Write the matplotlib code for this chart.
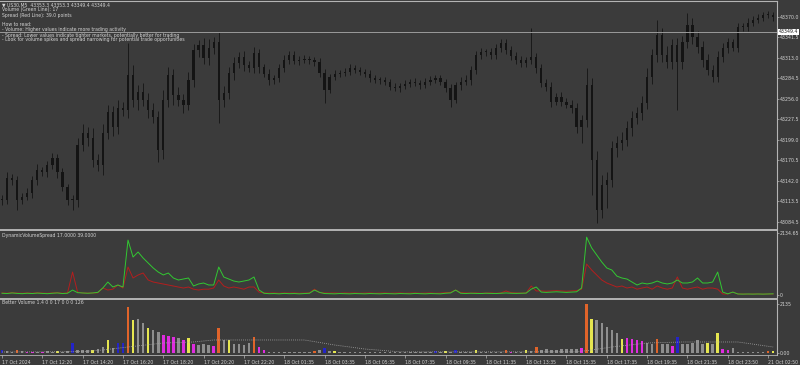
import numpy as np
import matplotlib
matplotlib.use('Agg')
import matplotlib.pyplot as plt
import matplotlib.transforms as mtransforms
from matplotlib.lines import Line2D

# --- price data (one candle ~ 15 minutes of the M5 chart) ---
close = [43116, 43146, 43143, 43116, 43120, 43125, 43143, 43157, 43154, 43164, 43174, 43154, 43134, 43116, 43116,
         43192, 43209, 43202, 43171, 43164, 43209, 43238, 43217, 43243, 43241, 43289, 43255, 43266, 43255, 43241,
         43231, 43185, 43255, 43289, 43262, 43255, 43248, 43282, 43324, 43331, 43313, 43327, 43335, 43255, 43264,
         43292, 43306, 43314, 43303, 43299, 43320, 43300, 43291, 43282, 43285, 43299, 43310, 43317, 43309, 43310,
         43312, 43310, 43307, 43292, 43269, 43287, 43291, 43292, 43294, 43299, 43296, 43294, 43291, 43285, 43282,
         43282, 43280, 43273, 43271, 43274, 43277, 43280, 43278, 43275, 43280, 43282, 43285, 43280, 43271, 43255,
         43275, 43280, 43282, 43296, 43317, 43321, 43321, 43317, 43327, 43334, 43324, 43316, 43310, 43306, 43310,
         43314, 43299, 43278, 43273, 43252, 43259, 43252, 43248, 43243, 43217, 43227, 43275, 43171, 43102, 43136,
         43143, 43188, 43195, 43199, 43216, 43230, 43237, 43250, 43287, 43317, 43345, 43317, 43307, 43331, 43307,
         43335, 43359, 43342, 43328, 43310, 43296, 43287, 43314, 43327, 43335, 43327, 43356, 43356, 43362, 43366,
         43369, 43373, 43373, 43370]
up_wick = [6, 8, 5, 6, 5, 7, 6, 8, 5, 6, 7, 5, 6, 4, 6,
           10, 12, 8, 14, 9, 12, 10, 8, 12, 9, 45, 14, 10, 12, 9,
           10, 8, 14, 12, 9, 10, 8, 12, 9, 7, 10, 12, 7, 14, 10,
           9, 8, 7, 8, 6, 8, 6, 5, 6, 5, 6, 7, 5, 5, 6,
           5, 4, 5, 6, 5, 4, 5, 4, 5, 6, 4, 5, 4, 5, 4,
           4, 5, 4, 5, 4, 5, 4, 5, 4, 5, 6, 4, 5, 4, 6,
           5, 6, 7, 6, 5, 6, 5, 6, 5, 6, 5, 6, 5, 6, 5,
           41, 6, 5, 6, 7, 5, 6, 5, 6, 8, 7, 24, 10, 12, 14,
           12, 10, 9, 11, 10, 9, 8, 10, 12, 9, 21, 10, 12, 9, 10,
           9, 17, 10, 8, 9, 8, 7, 8, 7, 6, 5, 6, 5, 6, 5,
           5, 4, 5, 4]
dn_wick = [8, 6, 7, 14, 6, 5, 7, 6, 5, 7, 6, 8, 6, 7, 14,
           10, 9, 12, 10, 8, 14, 9, 12, 10, 8, 12, 10, 14, 9, 12,
           8, 17, 12, 10, 14, 9, 12, 8, 10, 9, 8, 10, 9, 32, 10,
           8, 9, 7, 8, 6, 7, 8, 5, 6, 5, 6, 5, 6, 5, 6,
           4, 5, 5, 6, 18, 5, 4, 5, 4, 5, 4, 5, 4, 5, 4,
           5, 4, 5, 4, 5, 4, 5, 4, 5, 4, 5, 4, 5, 6, 10,
           5, 6, 5, 6, 5, 6, 5, 6, 5, 6, 5, 6, 5, 6, 5,
           6, 7, 5, 6, 7, 5, 6, 5, 6, 8, 22, 10, 49, 18, 12,
           31, 10, 12, 10, 9, 11, 9, 10, 8, 10, 9, 10, 8, 9, 66,
           9, 8, 10, 8, 9, 7, 8, 7, 6, 7, 5, 6, 5, 6, 5,
           4, 5, 4, 5]
price_ticks = [43084.5, 43113.5, 43142.0, 43170.5, 43199.0, 43227.5, 43256.0, 43284.5, 43313.0, 43341.5, 43370.0]
bid_price = 43349.4

# --- DynamicVolumeSpread ---
vol_line = [60, 50, 70, 55, 45, 60, 50, 65, 55, 45, 60, 70, 50, 60, 170,
            80, 70, 60, 70, 90, 240, 447, 275, 344, 275, 1890, 1307, 1480, 1273, 1100,
            930, 790, 690, 757, 585, 516, 550, 585, 310, 380, 413, 344, 344, 963, 619,
            550, 480, 447, 480, 516, 619, 172, 60, 45, 50, 40, 55, 45, 50, 40,
            50, 60, 170, 90, 50, 45, 40, 50, 45, 40, 50, 45, 40, 50, 45,
            40, 50, 45, 40, 50, 45, 40, 55, 45, 40, 50, 45, 40, 60, 70,
            170, 60, 50, 60, 55, 50, 60, 55, 50, 60, 70, 60, 55, 60, 65,
            200, 275, 100, 90, 100, 110, 100, 90, 100, 110, 240, 1990, 1620, 1376, 1135,
            930, 860, 650, 585, 550, 447, 344, 413, 380, 413, 480, 413, 380, 413, 516,
            413, 413, 447, 585, 413, 413, 447, 790, 100, 40, 100, 35, 30, 35, 30,
            35, 30, 35, 40]
spread_line = [70, 60, 80, 65, 60, 70, 60, 75, 65, 60, 70, 80, 60, 70, 790,
               100, 70, 65, 70, 75, 240, 172, 200, 344, 240, 963, 585, 688, 757, 516,
               447, 413, 380, 344, 310, 275, 240, 275, 200, 172, 200, 200, 240, 516, 310,
               240, 275, 240, 200, 275, 275, 100, 70, 65, 70, 60, 70, 65, 70, 60,
               65, 70, 200, 80, 70, 65, 70, 60, 70, 65, 70, 60, 65, 70, 60,
               65, 70, 60, 65, 70, 60, 65, 70, 60, 65, 70, 60, 65, 80, 90,
               170, 80, 70, 65, 70, 60, 65, 70, 60, 70, 140, 80, 70, 65, 70,
               310, 140, 140, 130, 140, 150, 140, 130, 140, 150, 200, 1066, 860, 690, 516,
               413, 344, 275, 310, 240, 275, 200, 240, 275, 200, 310, 240, 200, 240, 620,
               240, 200, 240, 275, 200, 240, 240, 200, 35, 35, 100, 35, 35, 30, 35,
               35, 30, 35, 35]

# --- Better Volume ---
bv_values = [130, 90, 60, 150, 80, 60, 60, 50, 60, 70, 60, 90, 60, 70, 430,
             120, 150, 130, 150, 180, 250, 560, 200, 430, 450, 2000, 1440, 1500, 1300, 1090,
             1000, 900, 800, 720, 700, 650, 560, 650, 400, 350, 380, 330, 300, 1090, 550,
             560, 400, 380, 350, 420, 700, 250, 120, 60, 50, 40, 50, 40, 45, 40,
             50, 60, 90, 130, 220, 70, 100, 50, 40, 45, 50, 40, 40, 30, 35,
             40, 35, 30, 40, 35, 30, 40, 45, 30, 35, 40, 80, 40, 70, 50,
             150, 40, 40, 50, 130, 40, 35, 40, 45, 40, 110, 60, 50, 40, 120,
             70, 270, 130, 160, 140, 150, 160, 170, 180, 190, 220, 2130, 1500, 1450, 1300,
             1150, 1000, 880, 600, 650, 620, 560, 520, 430, 400, 600, 380, 400, 300, 680,
             400, 380, 420, 560, 400, 420, 380, 870, 180, 120, 200, 50, 40, 30, 30,
             40, 40, 80, 100]
bv_codes = ("bggrgmmgmggyggb" "gggyggygbbryggy" "ggmmmgmymgggmrg" "yggggrmmggggggg"
            "ggrgbgygggggggg" "gggggggggggbgyg" "bgggygggggrmggy" "grggggggggmrygg"
            "gggymmmmggrggmb" "gggggygymmggggg" "ggry")
bv_avg_idx = [0, 16, 20, 25, 32, 38, 42, 60, 66, 72, 79, 114, 117, 121, 128, 135, 146, 153]
bv_avg_val = [44, 60, 131, 262, 436, 480, 567, 567, 349, 174, 50, 50, 131, 262, 436, 480, 480, 262]

time_labels = ['17 Oct 2024', '17 Oct 12:20', '17 Oct 14:20', '17 Oct 16:20', '17 Oct 18:20',
               '17 Oct 20:20', '17 Oct 22:20', '18 Oct 01:35', '18 Oct 03:35', '18 Oct 05:35',
               '18 Oct 07:35', '18 Oct 09:35', '18 Oct 11:35', '18 Oct 13:35', '18 Oct 15:35',
               '18 Oct 17:35', '18 Oct 19:35', '18 Oct 21:35', '18 Oct 23:50', '21 Oct 02:50']

header = ['\u25bc US30,M5  43353.3 43353.3 43349.4 43349.4',
          'Volume (Green Line): 17',
          'Spread (Red Line): 39.0 points',
          '',
          'How to read:',
          '- Volume: Higher values indicate more trading activity',
          '- Spread: Lower values indicate tighter markets, potentially better for trading',
          '- Look for volume spikes and spread narrowing for potential trade opportunities']

BG = '#3b3b3b'
FG = '#d2d2d2'
BORDER = '#b4b4b4'
CANDLE = '#141414'
bar_cmap = {'g': '#8e8e8e', 'y': '#e6e650', 'r': '#e0642a', 'm': '#e02ce0', 'b': '#2424c8'}

W, H = 800, 365
PX_PER_BAR = 5.04
FS = 3.45


def px_rect(x0, y0, x1, y1):
    return [x0 / W, 1 - y1 / H, (x1 - x0) / W, (y1 - y0) / H]


fig = plt.figure(figsize=(8, 3.65), dpi=100, facecolor=BG)
ax = fig.add_axes(px_rect(0, 1, 777, 229))
ax1 = fig.add_axes(px_rect(0, 231, 777, 297), sharex=ax)
ax2 = fig.add_axes(px_rect(0, 300, 777, 355), sharex=ax)

for a in (ax, ax1, ax2):
    a.set_facecolor(BG)
    for s in ('left', 'top', 'bottom'):
        a.spines[s].set_visible(False)
    a.spines['right'].set_color(BORDER)
    a.spines['right'].set_linewidth(0.8)
    a.yaxis.tick_right()
    a.tick_params(axis='y', length=1.2, width=0.5, color=BORDER, labelsize=FS,
                  labelcolor=FG, pad=0.5)
    a.tick_params(axis='x', bottom=False, labelbottom=False)
ax.spines['top'].set_visible(True)
ax.spines['top'].set_color(BORDER)
ax2.spines['bottom'].set_visible(True)
ax2.spines['bottom'].set_color(BORDER)
ax2.spines['bottom'].set_linewidth(0.6)

# candles
c = np.array(close, dtype=float)
idx = np.arange(len(c))
opens = np.r_[c[0], c[:-1]]
hi = np.maximum(opens, c) + np.array(up_wick)
lo = np.minimum(opens, c) - np.array(dn_wick)
ax.vlines(idx, lo, hi, color=CANDLE, lw=0.6)
ax.bar(idx, np.maximum(np.abs(c - opens), 1.5), bottom=np.minimum(opens, c),
       width=0.45, color=CANDLE, linewidth=0)
ax.axhline(bid_price, color='#9a9a9a', lw=0.7)
ax.set_xlim(-2 / PX_PER_BAR, 775 / PX_PER_BAR)
ax.set_ylim(43075.2, 43392.2)
ax.set_yticks(price_ticks)
ax.set_yticklabels(['%.1f' % p for p in price_ticks])
tr = mtransforms.blended_transform_factory(ax.transAxes, ax.transData)
ax.text(1.002, bid_price, '%.1f' % bid_price, transform=tr, fontsize=FS, color='#202020',
        va='center', ha='left', clip_on=False,
        bbox=dict(facecolor='white', edgecolor='none', pad=0.4))

# DynamicVolumeSpread
ax1.plot(idx, spread_line, color='#b41e1e', lw=0.7)
ax1.plot(idx, vol_line, color='#32c832', lw=0.7)
ax1.set_ylim(-69, 2203)
ax1.set_yticks([0, 2134.65])
ax1.set_yticklabels(['0', '2134.65'])

# Better Volume
ax2.bar(idx, bv_values, width=0.5, color=[bar_cmap[k] for k in bv_codes], linewidth=0)
ax2.plot(bv_avg_idx, bv_avg_val, color='#a8a8a8', lw=0.6, ls=(0, (1, 1.5)))
ax2.set_ylim(-87, 2309)
ax2.set_yticks([0, 2135])
ax2.set_yticklabels(['0.00', '2135'])
ax2.set_xticks(np.arange(len(time_labels)) * 8)
ax2.set_xticklabels(time_labels, ha='left')
ax2.tick_params(axis='x', bottom=True, labelbottom=True, length=2.5, width=0.5,
                color=BORDER, labelsize=3.3, labelcolor=FG, pad=1)

# pane separators
for yp in (230, 298.5):
    fig.add_artist(Line2D([0, 777 / W], [1 - yp / H] * 2, color=BORDER, lw=1.4))

# texts
for k, line in enumerate(header):
    fig.text(2 / W, 1 - (5 + 5 * k) / H, line, fontsize=3.3, color=FG, va='center', ha='left')
fig.text(2 / W, 1 - 236 / H, 'DynamicVolumeSpread 17.0000 39.0000', fontsize=3.3, color=FG,
         va='center', ha='left')
fig.text(2 / W, 1 - 303 / H, 'Better Volume 1.4 0 0 17 0 0 0 126', fontsize=3.3, color=FG,
         va='center', ha='left')

fig.savefig('out.png', dpi=100, facecolor=BG)
